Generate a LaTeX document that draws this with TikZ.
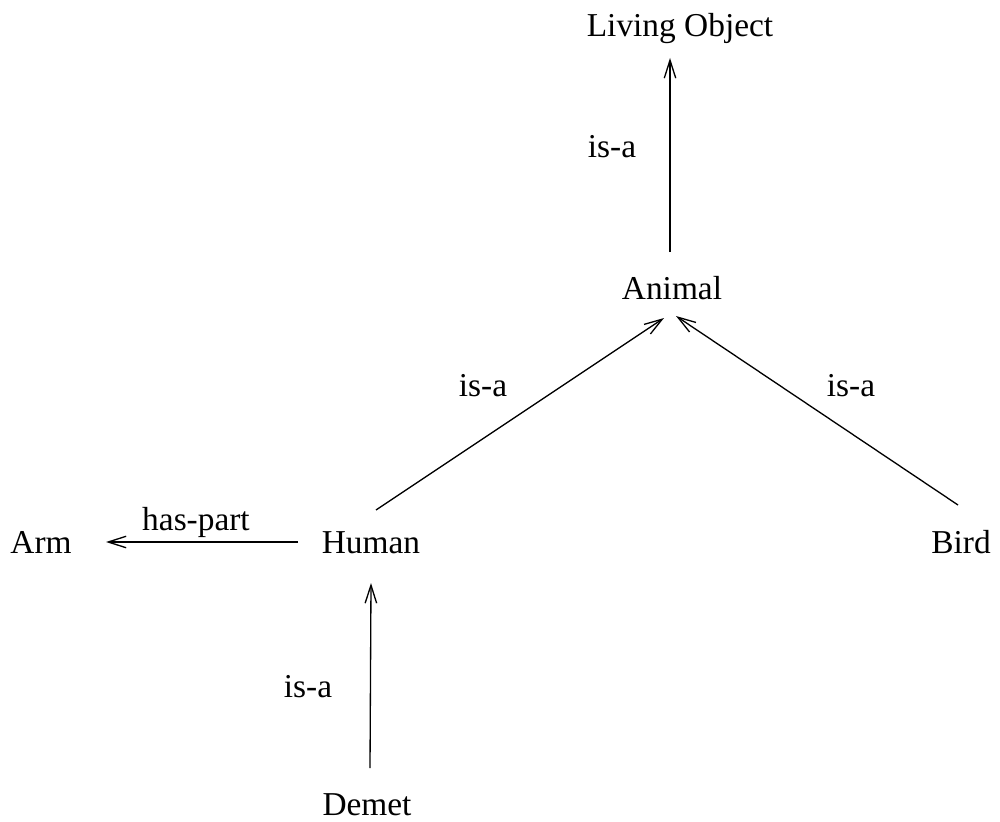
\documentclass[tikz,border=0pt]{standalone}
\usepackage{fontspec}
\setmainfont{Liberation Serif}
\usetikzlibrary{arrows.meta}
\begin{document}
\begin{tikzpicture}[x=0.02cm,y=-0.02cm,
  lbl/.style={anchor=base,inner sep=0pt,outer sep=0pt,font=\fontsize{19}{23}\selectfont},
  rel/.style={anchor=base,inner sep=0pt,outer sep=0pt,font=\fontsize{19}{23}\selectfont},
  arr/.style={draw=black,line width=0.75pt,-{Straight Barb[length=0.36cm,width=0.23cm,line width=0.75pt]}}]
\useasboundingbox (0,0) rectangle (1000,821);
% concept nodes
\node[lbl] (living) at (680,37) {Living Object};
\node[lbl] (animal) at (672,299) {Animal};
\node[lbl] (human) at (371,553) {Human};
\node[lbl] (bird) at (961,553) {Bird};
\node[lbl] (arm) at (41,553) {Arm};
\node[lbl] (demet) at (367,815) {Demet};
% relation labels
\node[rel] (l1) at (612,157) {is-a};
\node[rel] (l2) at (483,396) {is-a};
\node[rel] (l3) at (851,396) {is-a};
\node[rel] (l4) at (196,530) {has-part};
\node[rel] (l5) at (308,697) {is-a};
% connectors
\draw[arr] ([shift={(-2,-47)}]animal.base) -- ([shift={(-10,21)}]living.base);
\draw[arr] ([shift={(5,-43)}]human.base) -- ([shift={(-8,19)}]animal.base);
\draw[arr] ([shift={(-3,-48)}]bird.base) -- ([shift={(4,17)}]animal.base);
\draw[arr] ([shift={(-73,-11)}]human.base) -- ([shift={(65,-11)}]arm.base);
\draw[arr] ([shift={(3,-47)}]demet.base) -- ([shift={(0,30)}]human.base);
\end{tikzpicture}
\end{document}
